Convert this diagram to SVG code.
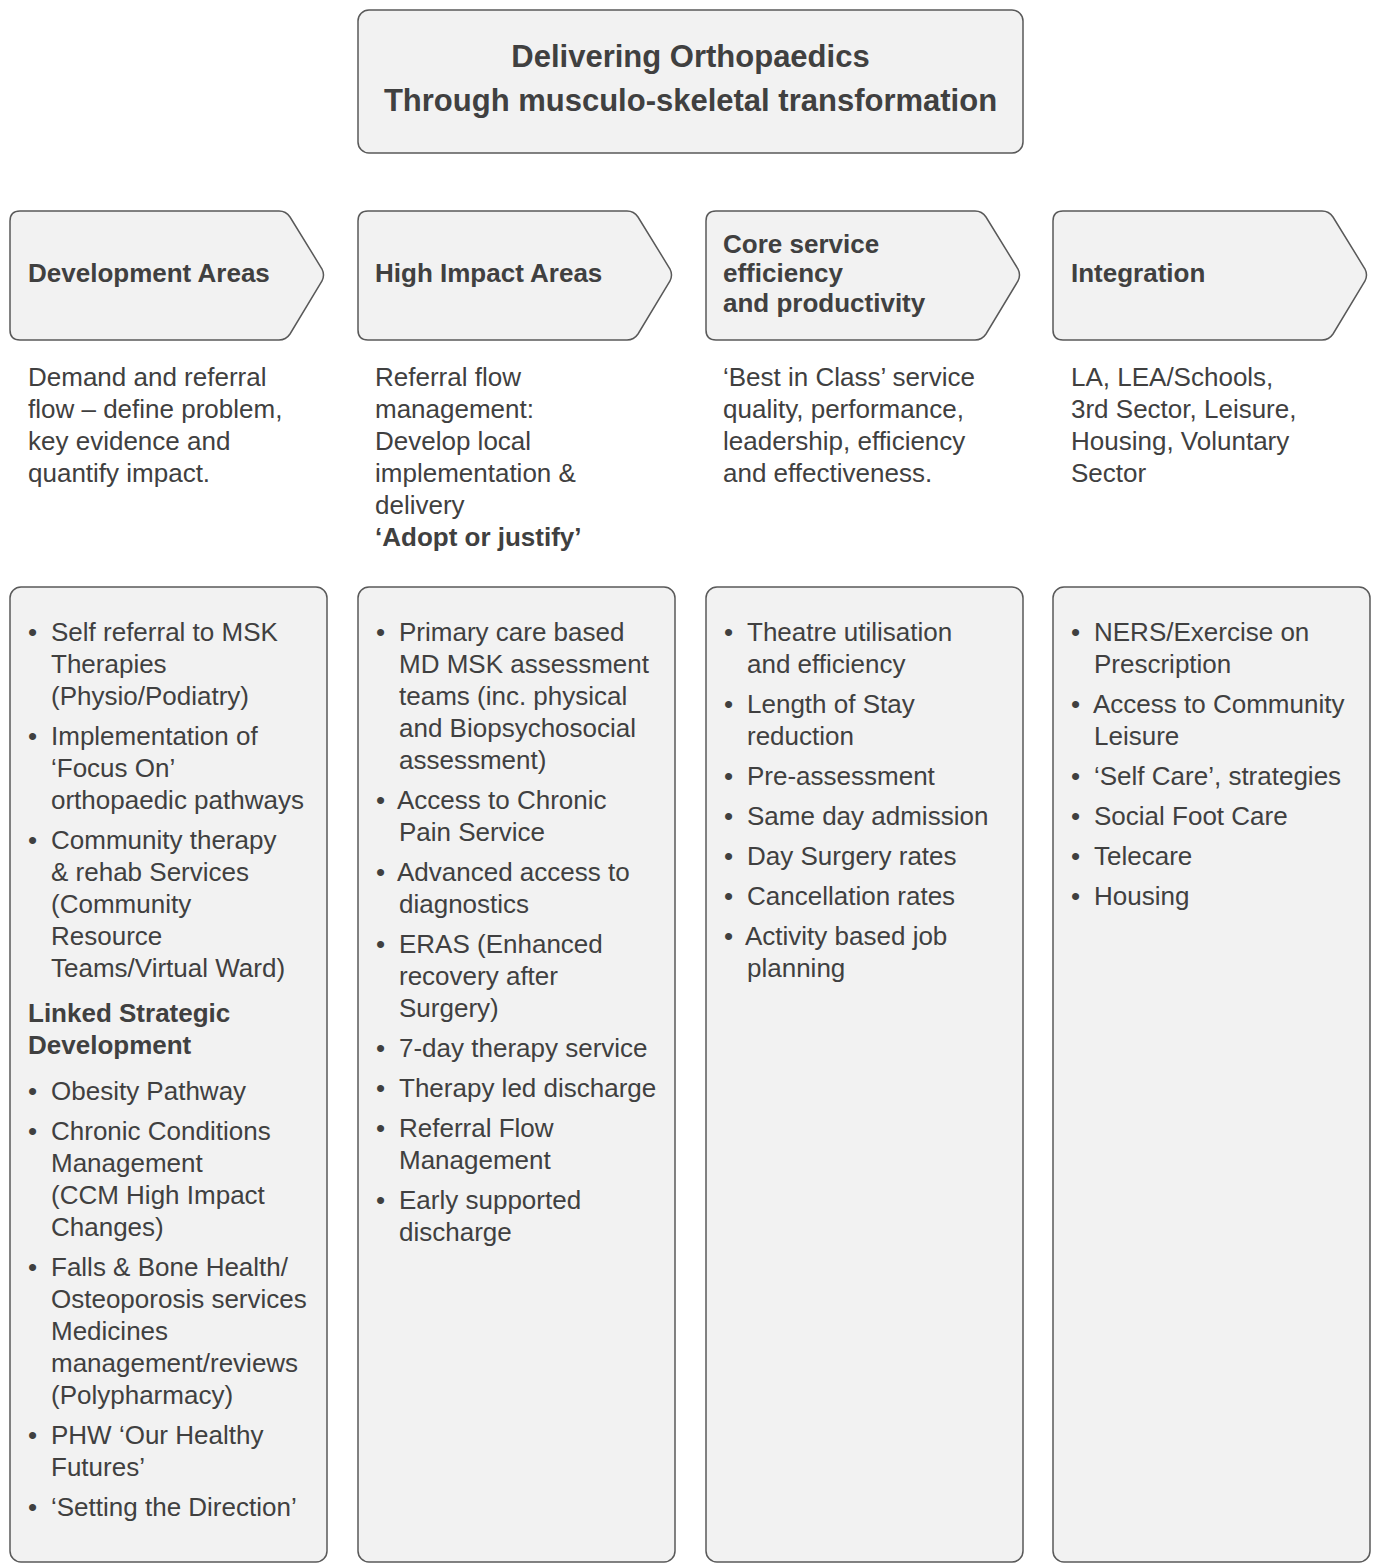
<svg xmlns="http://www.w3.org/2000/svg" width="1376" height="1564" viewBox="0 0 1376 1564">
<style>
.box{fill:#f2f2f2;stroke:#595959;stroke-width:1.5}
text{font-family:"Liberation Sans",Arial,sans-serif;fill:#404040;font-size:26px}
.b{font-weight:bold}
.t{font-weight:bold;font-size:31px}
</style>
<rect width="1376" height="1564" fill="#ffffff"/>
<g id="title">
<rect class="box" x="358" y="10" width="665" height="143" rx="11"/>
<text class="t" x="690.5" y="67" text-anchor="middle">Delivering Orthopaedics</text>
<text class="t" x="690.5" y="111" text-anchor="middle">Through musculo-skeletal transformation</text>
</g>
<g id="connectors"></g>
<g id="head1">
<path class="box" d="M20,211 L279,211 Q286,211 290,217 L322,269 Q325,275 322,281 L290,334 Q286,340 279,340 L20,340 Q10,340 10,330 L10,221 Q10,211 20,211 Z"/>
<text class="b" x="28" y="282">Development Areas</text>
</g>
<g id="head2">
<path class="box" transform="translate(348,0)" d="M20,211 L279,211 Q286,211 290,217 L322,269 Q325,275 322,281 L290,334 Q286,340 279,340 L20,340 Q10,340 10,330 L10,221 Q10,211 20,211 Z"/>
<text class="b" x="375" y="282">High Impact Areas</text>
</g>
<g id="head3">
<path class="box" transform="translate(696,0)" d="M20,211 L279,211 Q286,211 290,217 L322,269 Q325,275 322,281 L290,334 Q286,340 279,340 L20,340 Q10,340 10,330 L10,221 Q10,211 20,211 Z"/>
<text class="b" x="723" y="253">Core service</text>
<text class="b" x="723" y="282">efficiency</text>
<text class="b" x="723" y="312">and productivity</text>
</g>
<g id="head4">
<path class="box" transform="translate(1043,0)" d="M20,211 L279,211 Q286,211 290,217 L322,269 Q325,275 322,281 L290,334 Q286,340 279,340 L20,340 Q10,340 10,330 L10,221 Q10,211 20,211 Z"/>
<text class="b" x="1071" y="282">Integration</text>
</g>
<g id="desc1">
<text x="28" y="386">Demand and referral</text>
<text x="28" y="418">flow – define problem,</text>
<text x="28" y="450">key evidence and</text>
<text x="28" y="482">quantify impact.</text>
</g>
<g id="desc2">
<text x="375" y="386">Referral flow</text>
<text x="375" y="418">management:</text>
<text x="375" y="450">Develop local</text>
<text x="375" y="482">implementation &amp;</text>
<text x="375" y="514">delivery</text>
<text class="b" x="375" y="546">‘Adopt or justify’</text>
</g>
<g id="desc3">
<text x="723" y="386">‘Best in Class’ service</text>
<text x="723" y="418">quality, performance,</text>
<text x="723" y="450">leadership, efficiency</text>
<text x="723" y="482">and effectiveness.</text>
</g>
<g id="desc4">
<text x="1071" y="386">LA, LEA/Schools,</text>
<text x="1071" y="418">3rd Sector, Leisure,</text>
<text x="1071" y="450">Housing, Voluntary</text>
<text x="1071" y="482">Sector</text>
</g>
<g id="list1">
<rect class="box" x="10" y="587" width="317" height="975" rx="11"/>
<text x="28" y="641">•</text><text x="51" y="641">Self referral to MSK</text>
<text x="51" y="673">Therapies</text>
<text x="51" y="705">(Physio/Podiatry)</text>
<text x="28" y="745">•</text><text x="51" y="745">Implementation of</text>
<text x="51" y="777">‘Focus On’</text>
<text x="51" y="809">orthopaedic pathways</text>
<text x="28" y="849">•</text><text x="51" y="849">Community therapy</text>
<text x="51" y="881">&amp; rehab Services</text>
<text x="51" y="913">(Community</text>
<text x="51" y="945">Resource</text>
<text x="51" y="977">Teams/Virtual Ward)</text>
<text class="b" x="28" y="1022">Linked Strategic</text>
<text class="b" x="28" y="1054">Development</text>
<text x="28" y="1100">•</text><text x="51" y="1100">Obesity Pathway</text>
<text x="28" y="1140">•</text><text x="51" y="1140">Chronic Conditions</text>
<text x="51" y="1172">Management</text>
<text x="51" y="1204">(CCM High Impact</text>
<text x="51" y="1236">Changes)</text>
<text x="28" y="1276">•</text><text x="51" y="1276">Falls &amp; Bone Health/</text>
<text x="51" y="1308">Osteoporosis services</text>
<text x="51" y="1340">Medicines</text>
<text x="51" y="1372">management/reviews</text>
<text x="51" y="1404">(Polypharmacy)</text>
<text x="28" y="1444">•</text><text x="51" y="1444">PHW ‘Our Healthy</text>
<text x="51" y="1476">Futures’</text>
<text x="28" y="1516">•</text><text x="51" y="1516">‘Setting the Direction’</text>
</g>
<g id="list2">
<rect class="box" x="358" y="587" width="317" height="975" rx="11"/>
<text x="376" y="641">•</text><text x="399" y="641">Primary care based</text>
<text x="399" y="673">MD MSK assessment</text>
<text x="399" y="705">teams (inc. physical</text>
<text x="399" y="737">and Biopsychosocial</text>
<text x="399" y="769">assessment)</text>
<text x="376" y="809">•</text><text x="397" y="809">Access to Chronic</text>
<text x="399" y="841">Pain Service</text>
<text x="376" y="881">•</text><text x="397" y="881">Advanced access to</text>
<text x="399" y="913">diagnostics</text>
<text x="376" y="953">•</text><text x="399" y="953">ERAS (Enhanced</text>
<text x="399" y="985">recovery after</text>
<text x="399" y="1017">Surgery)</text>
<text x="376" y="1057">•</text><text x="399" y="1057">7-day therapy service</text>
<text x="376" y="1097">•</text><text x="399" y="1097">Therapy led discharge</text>
<text x="376" y="1137">•</text><text x="399" y="1137">Referral Flow</text>
<text x="399" y="1169">Management</text>
<text x="376" y="1209">•</text><text x="399" y="1209">Early supported</text>
<text x="399" y="1241">discharge</text>
</g>
<g id="list3">
<rect class="box" x="706" y="587" width="317" height="975" rx="11"/>
<text x="724" y="641">•</text><text x="747" y="641">Theatre utilisation</text>
<text x="747" y="673">and efficiency</text>
<text x="724" y="713">•</text><text x="747" y="713">Length of Stay</text>
<text x="747" y="745">reduction</text>
<text x="724" y="785">•</text><text x="747" y="785">Pre-assessment</text>
<text x="724" y="825">•</text><text x="747" y="825">Same day admission</text>
<text x="724" y="865">•</text><text x="747" y="865">Day Surgery rates</text>
<text x="724" y="905">•</text><text x="747" y="905">Cancellation rates</text>
<text x="724" y="945">•</text><text x="745" y="945">Activity based job</text>
<text x="747" y="977">planning</text>
</g>
<g id="list4">
<rect class="box" x="1053" y="587" width="317" height="975" rx="11"/>
<text x="1071" y="641">•</text><text x="1094" y="641">NERS/Exercise on</text>
<text x="1094" y="673">Prescription</text>
<text x="1071" y="713">•</text><text x="1093" y="713">Access to Community</text>
<text x="1094" y="745">Leisure</text>
<text x="1071" y="785">•</text><text x="1094" y="785">‘Self Care’, strategies</text>
<text x="1071" y="825">•</text><text x="1094" y="825">Social Foot Care</text>
<text x="1071" y="865">•</text><text x="1094" y="865">Telecare</text>
<text x="1071" y="905">•</text><text x="1094" y="905">Housing</text>
</g>
</svg>
